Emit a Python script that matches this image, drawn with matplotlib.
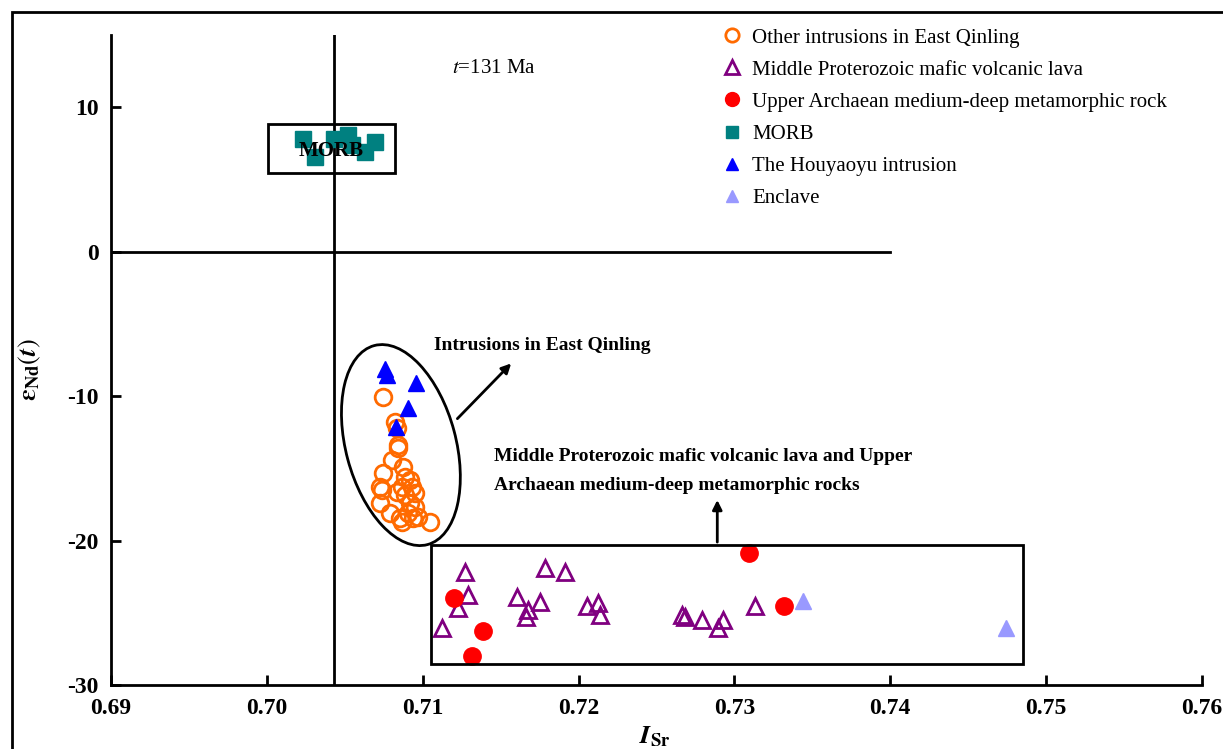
import matplotlib
matplotlib.use("Agg")
import matplotlib.pyplot as plt
from matplotlib.patches import Ellipse, Rectangle
from matplotlib.transforms import ScaledTranslation

plt.rcParams['font.family'] = 'serif'
plt.rcParams['font.serif'] = ['Liberation Serif', 'DejaVu Serif']
plt.rcParams['mathtext.fontset'] = 'stix'
plt.rcParams['axes.unicode_minus'] = False

# other intrusions in East Qinling (open orange circles)
other_sr = [0.70745, 0.70822, 0.70835, 0.70841, 0.70841, 0.70802, 0.70873, 0.70745,
            0.70886, 0.70918, 0.70725, 0.70738, 0.70867, 0.70931, 0.70835, 0.70950,
            0.70886, 0.70725, 0.70918, 0.70950, 0.70790, 0.70905, 0.70969, 0.70854,
            0.70937, 0.71046, 0.70867]
other_nd = [-10.07, -11.80, -12.21, -13.39, -13.60, -14.43, -14.91, -15.33,
            -15.61, -15.81, -16.30, -16.51, -16.30, -16.30, -16.64, -16.71,
            -16.85, -17.40, -17.40, -17.68, -18.10, -18.10, -18.37, -18.44,
            -18.44, -18.72, -18.72]

# middle proterozoic mafic volcanic lava
lava_sr = [0.71271, 0.71290, 0.71226, 0.71123, 0.71604, 0.71752, 0.71675, 0.71662,
           0.71784, 0.71912, 0.72053, 0.72124, 0.72137, 0.72663, 0.72682, 0.72791,
           0.72926, 0.72894, 0.73131]
lava_nd = [-22.18, -23.77, -24.67, -26.06, -23.91, -24.26, -24.81, -25.29,
           -21.90, -22.18, -24.53, -24.33, -25.16, -25.16, -25.29, -25.50,
           -25.50, -26.06, -24.53]

# upper archaean metamorphic rock
meta_sr = [0.71200, 0.71386, 0.71316, 0.73092, 0.73317]
meta_nd = [-23.98, -26.26, -27.99, -20.87, -24.53]

# MORB
morb_sr = [0.70232, 0.70309, 0.70430, 0.70520, 0.70546, 0.70629, 0.70693]
morb_nd = [7.79, 6.54, 7.79, 8.06, 7.37, 6.89, 7.58]

# Houyaoyu intrusion
hyy_sr = [0.70758, 0.70770, 0.70956, 0.70905, 0.70828]
hyy_nd = [-8.13, -8.55, -9.10, -10.83, -12.15]

# enclave
encl_sr = [0.73439, 0.74741]
encl_nd = [-24.19, -26.06]

xticks = [0.69, 0.70, 0.71, 0.72, 0.73, 0.74, 0.75, 0.76]
yticks = [-30, -20, -10, 0, 10]

W, H = 1223, 749
fig = plt.figure(figsize=(W / 100, H / 100), dpi=100)
ax = fig.add_axes([111 / W, 64 / H, (1202 - 111) / W, (714 - 64) / H])

ax.set_xlim(0.69, 0.76)
ax.set_ylim(-30, 15)
for s in ['top', 'right']:
    ax.spines[s].set_visible(False)
for s in ['left', 'bottom']:
    ax.spines[s].set_linewidth(2)
ax.set_xticks(xticks)
ax.set_xticklabels(['%.2f' % v for v in xticks])
ax.set_yticks(yticks)
ax.tick_params(direction='in', width=2, length=7, labelsize=17, pad=9)
for lab in ax.get_xticklabels() + ax.get_yticklabels():
    lab.set_fontweight('bold')

# reference lines
ax.axvline(0.7043, color='black', lw=2, zorder=1)
ax.plot([0.69, 0.74], [0, 0], color='black', lw=2, zorder=1)

ax.plot(other_sr, other_nd, 'o', ms=12, mfc='none', mec='#FF6A00', mew=2,
        label='Other intrusions in East Qinling', zorder=3)
ax.plot(lava_sr, lava_nd, '^', ms=12, mfc='none', mec='#800080', mew=2,
        label='Middle Proterozoic mafic volcanic lava', zorder=3)
ax.plot(meta_sr, meta_nd, 'o', ms=12.5, color='#FF0000', mec='#FF0000',
        label='Upper Archaean medium-deep metamorphic rock', zorder=3)
ax.plot(morb_sr, morb_nd, 's', ms=11, color='#008080', mec='#008080',
        label='MORB', zorder=2)
ax.plot(hyy_sr, hyy_nd, '^', ms=11, color='#0000FF', mec='#0000FF',
        label='The Houyaoyu intrusion', zorder=4)
ax.plot(encl_sr, encl_nd, '^', ms=11, color='#9999FF', mec='#9999FF',
        label='Enclave', zorder=3)

# MORB box
ax.add_patch(Rectangle((0.7001, 5.43), 0.0081, 3.39, fill=False, lw=2, ec='black', zorder=5))
ax.text(0.70411, 7.0, 'MORB', fontsize=15, fontweight='bold', ha='center', va='center', zorder=6)

# bottom box
ax.add_patch(Rectangle((0.7105, -28.55), 0.0380, 8.25, fill=False, lw=2, ec='black', zorder=5))
ax.annotate('', xy=(0.7289, -17.0), xytext=(0.7289, -20.3),
            arrowprops=dict(arrowstyle='-|>', color='black', lw=2, mutation_scale=14))
ax.text(0.7146, -14.2, 'Middle Proterozoic mafic volcanic lava and Upper',
        fontsize=14, fontweight='bold', va='center')
ax.text(0.7146, -16.2, 'Archaean medium-deep metamorphic rocks',
        fontsize=14, fontweight='bold', va='center')

# ellipse round the East Qinling intrusions
ell = Ellipse((0, 0), 1.10, 2.06, angle=15, fill=False, lw=2, ec='black',
              transform=fig.dpi_scale_trans + ScaledTranslation(0.7086, -13.39, ax.transData))
ax.add_patch(ell)
ax.annotate('', xy=(0.7158, -7.6), xytext=(0.7121, -11.7),
            arrowprops=dict(arrowstyle='-|>', color='black', lw=2, mutation_scale=14))
ax.text(0.7107, -6.5, 'Intrusions in East Qinling', fontsize=14, fontweight='bold', va='center')

ax.text(0.7119, 12.7, r'$t$=131 Ma', fontsize=15, va='center')

ax.legend(loc='upper left', bbox_to_anchor=(722 / W, 1 - 28 / H), bbox_transform=fig.transFigure,
          frameon=False, fontsize=15, handlelength=1, handletextpad=0.45,
          labelspacing=0.6, borderpad=0, borderaxespad=0, numpoints=1, markerscale=0.8)

fig.text(30 / W, 1 - 370 / H, r'$\boldsymbol{\varepsilon}_{\mathbf{Nd}}(\boldsymbol{t})$',
         rotation=90, fontsize=19, ha='center', va='center')
fig.text(655 / W, 1 - 737 / H, r'$\boldsymbol{I}_{\mathbf{Sr}}$', fontsize=19, ha='center', va='center')

# outer frame
fig.add_artist(Rectangle((12 / W, -0.1), 1.2, 1 - 12 / H + 0.1, fill=False, lw=2,
                         ec='black', transform=fig.transFigure))

fig.savefig('out.png', dpi=100)
